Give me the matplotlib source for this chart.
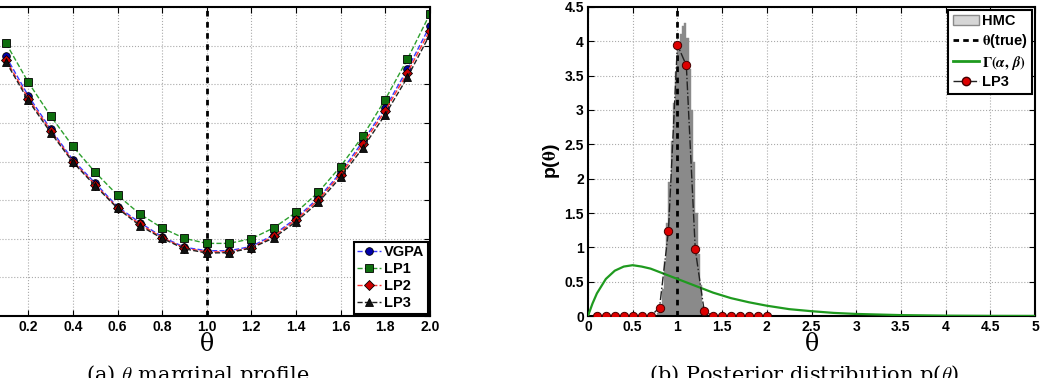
import numpy as np
import matplotlib
matplotlib.use("Agg")
import matplotlib.pyplot as plt
from matplotlib.patches import Patch
from matplotlib.lines import Line2D
from matplotlib.ticker import FuncFormatter

plt.rcParams['font.family'] = ['Liberation Sans', 'DejaVu Sans']
plt.rcParams['font.weight'] = 'bold'
plt.rcParams['mathtext.fontset'] = 'stix'

# ---- (a) theta marginal profile ----
theta = [0.1, 0.2, 0.3, 0.4, 0.5, 0.6, 0.7, 0.8, 0.9, 1.0,
         1.1, 1.2, 1.3, 1.4, 1.5, 1.6, 1.7, 1.8, 1.9, 2.0]
vgpa = [6.72, 5.70, 4.84, 4.04, 3.44, 2.83, 2.42, 2.05, 1.78, 1.69,
        1.69, 1.80, 2.10, 2.53, 3.05, 3.71, 4.52, 5.38, 6.39, 7.50]
lp1 = [7.06, 6.05, 5.18, 4.39, 3.72, 3.13, 2.64, 2.28, 2.01, 1.88,
       1.88, 2.00, 2.28, 2.68, 3.20, 3.87, 4.66, 5.60, 6.65, 7.81]
lp2 = [6.63, 5.63, 4.80, 4.00, 3.40, 2.80, 2.38, 2.03, 1.76, 1.66,
       1.66, 1.77, 2.06, 2.49, 3.00, 3.66, 4.45, 5.31, 6.30, 7.39]
lp3 = [6.58, 5.58, 4.75, 3.98, 3.37, 2.79, 2.34, 2.01, 1.74, 1.63,
       1.64, 1.76, 2.02, 2.44, 2.94, 3.59, 4.35, 5.21, 6.18, 7.28]
theta_true = 1.0

# ---- (b) posterior ----
lp3_post = [0, 0, 0, 0, 0, 0, 0, 0.12, 1.24, 3.95,
            3.65, 0.97, 0.07, 0, 0, 0, 0, 0, 0, 0]
hmc_edges = [0.775, 0.8, 0.825, 0.85, 0.875, 0.9, 0.925, 0.95, 0.975, 1.0, 1.025,
             1.05, 1.075, 1.1, 1.125, 1.15, 1.175, 1.2, 1.225, 1.25, 1.275, 1.3]
hmc_dens = [0.05, 0.15, 0.4, 0.8, 1.35, 1.95, 2.55, 3.1, 3.55, 3.9, 4.1,
            4.22, 4.27, 4.05, 3.6, 3.0, 2.25, 1.5, 0.9, 0.45, 0.15, 0.05]
gam_x = [0, 0.05, 0.1, 0.2, 0.3, 0.4, 0.5, 0.6, 0.7, 0.8, 0.9, 1.0, 1.2, 1.4,
         1.6, 1.8, 2.0, 2.25, 2.5, 2.75, 3.0, 3.5, 4.0, 4.5, 5.0]
gam_y = [0, 0.18, 0.33, 0.54, 0.66, 0.72, 0.74, 0.72, 0.69, 0.64, 0.59, 0.54,
         0.44, 0.34, 0.26, 0.20, 0.15, 0.10, 0.07, 0.045, 0.03, 0.013, 0.005,
         0.002, 0.001]

fig = plt.figure(figsize=(10.44, 3.78), dpi=100)
ax1 = fig.add_axes([-0.0156, 0.164, 0.4272, 0.8175])
ax2 = fig.add_axes([0.5632, 0.164, 0.4282, 0.8175])

def style(ax):
    ax.grid(True, linestyle=':', color='#aaaaaa', lw=0.8)
    ax.set_axisbelow(True)
    ax.tick_params(direction='in', top=True, right=True, length=4,
                   labelsize=10, pad=3)
    for s in ax.spines.values():
        s.set_linewidth(1.5)
    for lab in ax.get_xticklabels() + ax.get_yticklabels():
        lab.set_fontweight('bold')

ax1.plot(theta, vgpa, '--', color='#3a3aff', lw=1, marker='o', ms=5.5,
         mfc='#0000aa', mec='k', mew=0.6, label='VGPA')
ax1.plot(theta, lp1, '--', color='#2ea02e', lw=1, marker='s', ms=5.5,
         mfc='#0f6f0f', mec='k', mew=0.6, label='LP1')
ax1.plot(theta, lp2, '--', color='#ff3333', lw=1, marker='D', ms=5,
         mfc='#cc0000', mec='k', mew=0.6, label='LP2')
ax1.plot(theta, lp3, '--', color='#222222', lw=1, marker='^', ms=5.5,
         mfc='#111111', mec='k', mew=0.6, label='LP3')
ax1.axvline(theta_true, color='k', ls=(0, (2, 2)), lw=2, zorder=1)
ax1.set_xlim(0, 2)
ax1.set_ylim(0, 8)
ax1.set_xticks([0.2, 0.4, 0.6, 0.8, 1.0, 1.2, 1.4, 1.6, 1.8, 2.0])
ax1.xaxis.set_major_formatter(FuncFormatter(lambda v, p: '%.1f' % v))
ax1.set_yticks(range(9))
ax1.set_yticklabels([])
style(ax1)
ax1.set_xlabel('θ', fontsize=17, fontweight='normal', family='DejaVu Serif',
               labelpad=-1)
leg1 = ax1.legend(loc='lower right', fontsize=10.5, handlelength=1.6,
                  handletextpad=0.2, labelspacing=0.2, borderpad=0.25,
                  borderaxespad=0.15, fancybox=False, edgecolor='k',
                  framealpha=1)
leg1.get_frame().set_linewidth(1.5)

ax2.bar(hmc_edges, hmc_dens, width=0.025, align='edge', color='#8a8a8a',
        edgecolor='#8a8a8a', lw=0.3, zorder=2)
ax2.axvline(theta_true, color='k', ls=(0, (2, 2)), lw=2, zorder=3)
ax2.plot(gam_x, gam_y, '-', color='#1f9a1f', lw=1.6, zorder=3)
ax2.plot(theta, lp3_post, '-.', color='#222222', lw=1, marker='o', ms=6,
         mfc='#dd0000', mec='#440000', mew=0.7, zorder=4)
ax2.set_xlim(0, 5)
ax2.set_ylim(0, 4.5)
ax2.set_xticks(np.arange(0, 5.01, 0.5))
ax2.set_yticks(np.arange(0, 4.51, 0.5))
fmt = FuncFormatter(lambda v, p: '%g' % v)
ax2.xaxis.set_major_formatter(fmt)
ax2.yaxis.set_major_formatter(fmt)
style(ax2)
ax2.set_xlabel('θ', fontsize=17, fontweight='normal', family='DejaVu Serif',
               labelpad=-1)
ax2.set_ylabel(r'p($\mathrm{\theta}$)', fontsize=14, fontweight='bold',
               labelpad=2)

handles = [Patch(facecolor='#d6d6d6', edgecolor='#8a8a8a', lw=1),
           Line2D([], [], color='k', ls=(0, (2, 1.5)), lw=2),
           Line2D([], [], color='#1f9a1f', lw=2),
           Line2D([], [], color='#222222', ls='-.', lw=1, marker='o', ms=6,
                  mfc='#dd0000', mec='#440000')]
labels = ['HMC', r'$\mathrm{\theta}$(true)', r'$\Gamma(\alpha,\,\beta)$', 'LP3']
leg2 = ax2.legend(handles, labels, loc='upper right', fontsize=10.5,
                  handlelength=1.8, handletextpad=0.2, labelspacing=0.25,
                  borderpad=0.3, borderaxespad=0.2, fancybox=False,
                  edgecolor='k', framealpha=1)
leg2.get_frame().set_linewidth(1.5)

fig.text(0.189, 0.04, r'(a) $\theta$ marginal profile', ha='center', va='top',
         family='DejaVu Serif', fontweight='normal', fontsize=15,
         math_fontfamily='cm')
fig.text(0.77, 0.04, r'(b) Posterior distribution p($\theta$)', ha='center',
         va='top', family='DejaVu Serif', fontweight='normal', fontsize=15,
         math_fontfamily='cm')

fig.savefig('out.png', dpi=100)
